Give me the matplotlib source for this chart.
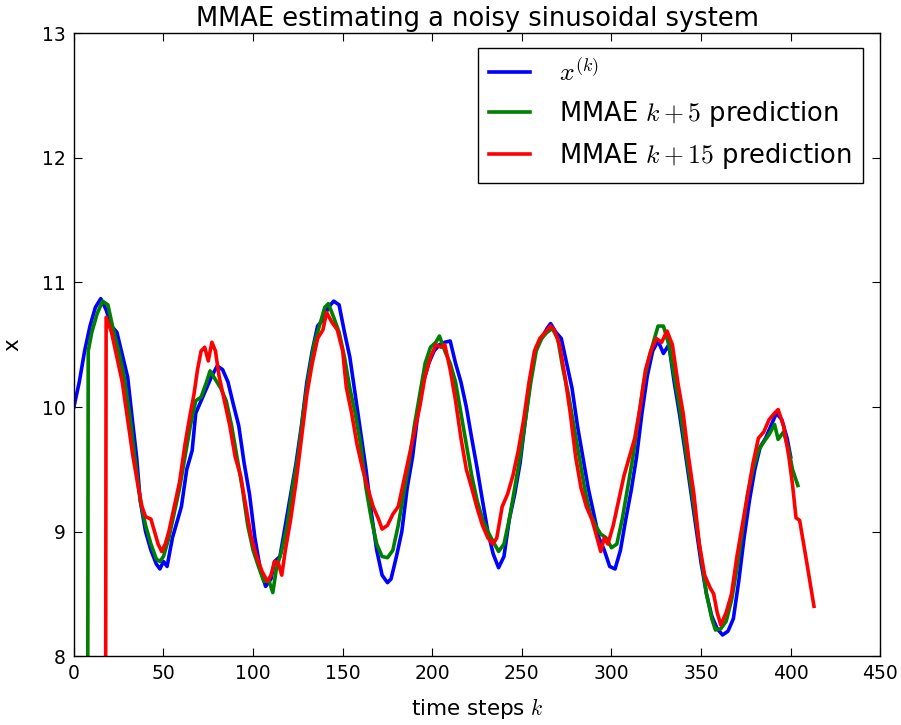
#!/usr/bin/env python3
"""
MMAE estimate of a noisy sinusoidal system: true state and k+5 / k+15 predictions.
"""

import matplotlib
matplotlib.use("Agg")
import matplotlib.pyplot as plt

# true state x^(k)
TRUE_K = [0, 3, 6, 9, 12, 15, 18, 21, 24, 27, 30, 33, 35, 37, 40, 43, 46, 48, 50, 52,
          55, 58, 60, 63, 66, 68, 71, 74, 77, 80, 83, 86, 89, 92, 95, 98, 101, 104, 107, 110,
          112, 115, 118, 121, 124, 127, 130, 133, 136, 139, 142, 145, 148, 151, 154, 157, 160, 163, 166, 169,
          172, 175, 177, 180, 183, 186, 189, 192, 195, 198, 201, 204, 207, 210, 213, 216, 219, 222, 225, 228,
          231, 234, 237, 240, 243, 246, 249, 252, 255, 258, 261, 264, 266, 269, 272, 275, 278, 281, 284, 287,
          290, 293, 296, 299, 302, 305, 308, 311, 314, 317, 320, 323, 326, 329, 332, 335, 338, 341, 344, 347,
          350, 353, 356, 359, 362, 365, 368, 371, 374, 377, 380, 383, 386, 389, 392, 395, 398, 400]
TRUE_X = [10.0, 10.2, 10.45, 10.65, 10.8, 10.87, 10.78, 10.65, 10.6, 10.42, 10.24, 9.85, 9.6, 9.25, 9.0, 8.85, 8.74, 8.70, 8.76, 8.72,
          8.95, 9.1, 9.2, 9.5, 9.65, 9.95, 10.05, 10.15, 10.25, 10.33, 10.3, 10.2, 10.02, 9.85, 9.55, 9.3, 8.95, 8.7, 8.56, 8.62,
          8.76, 8.8, 9.05, 9.3, 9.55, 9.85, 10.2, 10.45, 10.65, 10.7, 10.8, 10.85, 10.82, 10.6, 10.4, 10.1, 9.8, 9.5, 9.15, 8.85,
          8.65, 8.59, 8.62, 8.8, 9.0, 9.35, 9.6, 9.95, 10.2, 10.35, 10.45, 10.5, 10.52, 10.53, 10.35, 10.2, 10.0, 9.75, 9.51, 9.25,
          9.0, 8.82, 8.71, 8.8, 9.1, 9.3, 9.55, 9.9, 10.25, 10.48, 10.55, 10.63, 10.67, 10.6, 10.55, 10.35, 10.15, 9.85, 9.6, 9.35,
          9.15, 8.95, 8.85, 8.72, 8.70, 8.85, 9.1, 9.33, 9.6, 9.95, 10.25, 10.45, 10.53, 10.43, 10.5, 10.2, 9.94, 9.65, 9.35, 9.05,
          8.75, 8.5, 8.32, 8.22, 8.17, 8.2, 8.3, 8.6, 8.95, 9.25, 9.5, 9.68, 9.75, 9.85, 9.95, 9.9, 9.75, 9.6]

# MMAE k+5 prediction
P5_K = [7, 8, 10, 13, 16, 19, 22, 25, 28, 31, 34, 37, 40, 43, 46, 48, 50, 53, 56, 59,
        62, 65, 68, 71, 74, 76, 79, 82, 85, 88, 91, 94, 97, 100, 103, 106, 109, 111, 113, 116,
        119, 122, 125, 128, 131, 134, 137, 140, 142, 145, 148, 151, 154, 157, 160, 163, 166, 169, 172, 175,
        178, 181, 184, 187, 190, 193, 196, 199, 202, 204, 207, 210, 213, 216, 219, 222, 225, 228, 231, 234,
        237, 240, 243, 246, 249, 252, 255, 258, 261, 264, 267, 270, 273, 276, 279, 282, 285, 288, 291, 294,
        297, 300, 303, 306, 309, 312, 315, 318, 321, 324, 326, 329, 332, 335, 338, 341, 344, 347, 350, 353,
        356, 358, 361, 364, 367, 370, 373, 376, 379, 382, 385, 388, 391, 393, 396, 399, 401, 404]
P5_X = [0.0, 10.45, 10.6, 10.75, 10.85, 10.82, 10.62, 10.45, 10.25, 9.95, 9.6, 9.25, 9.05, 8.9, 8.78, 8.76, 8.8, 8.95, 9.15, 9.35,
        9.6, 9.85, 10.05, 10.08, 10.2, 10.29, 10.22, 10.15, 10.05, 9.85, 9.6, 9.35, 9.05, 8.85, 8.72, 8.6, 8.6, 8.51, 8.7, 8.85,
        9.05, 9.35, 9.6, 9.95, 10.25, 10.5, 10.65, 10.8, 10.83, 10.72, 10.6, 10.4, 10.15, 9.95, 9.7, 9.35, 9.1, 8.9, 8.8, 8.79,
        8.85, 9.05, 9.3, 9.55, 9.85, 10.1, 10.35, 10.48, 10.52, 10.57, 10.45, 10.35, 10.2, 9.95, 9.7, 9.45, 9.25, 9.1, 9.0, 8.92,
        8.84, 8.9, 9.1, 9.35, 9.6, 9.9, 10.2, 10.45, 10.55, 10.6, 10.63, 10.55, 10.3, 10.1, 9.85, 9.6, 9.35, 9.15, 9.05, 8.98,
        8.95, 8.87, 8.9, 9.1, 9.35, 9.6, 9.9, 10.2, 10.4, 10.55, 10.65, 10.65, 10.5, 10.25, 10.0, 9.7, 9.4, 9.1, 8.8, 8.5,
        8.3, 8.21, 8.22, 8.28, 8.45, 8.7, 9.0, 9.3, 9.5, 9.65, 9.72, 9.78, 9.86, 9.74, 9.8, 9.65, 9.5, 9.37]

# MMAE k+15 prediction
P15_K = [17, 18, 21, 24, 27, 30, 33, 36, 38, 40, 43, 45, 47, 49, 51, 53, 56, 59, 62, 65,
         67, 69, 71, 73, 75, 77, 79, 81, 84, 87, 90, 93, 96, 99, 102, 105, 108, 110, 112, 114,
         116, 118, 121, 124, 127, 130, 133, 136, 139, 141, 144, 147, 150, 152, 155, 158, 161, 164, 167, 170,
         172, 175, 178, 181, 184, 187, 190, 193, 196, 199, 202, 205, 207, 210, 213, 216, 219, 222, 225, 228,
         231, 234, 236, 239, 242, 245, 248, 251, 254, 257, 260, 263, 266, 268, 271, 274, 277, 280, 283, 286,
         289, 291, 294, 296, 298, 301, 304, 307, 310, 313, 316, 319, 322, 325, 328, 331, 334, 337, 340, 343,
         346, 349, 352, 355, 357, 359, 361, 364, 367, 370, 373, 376, 379, 382, 385, 388, 391, 393, 396, 399,
         401, 403, 405, 409, 413]
P15_X = [0.0, 10.72, 10.6, 10.4, 10.2, 9.9, 9.6, 9.35, 9.2, 9.12, 9.10, 9.0, 8.9, 8.84, 8.9, 9.0, 9.2, 9.4, 9.7, 9.95,
         10.1, 10.3, 10.45, 10.48, 10.37, 10.52, 10.45, 10.25, 10.05, 9.85, 9.6, 9.45, 9.2, 8.95, 8.8, 8.68, 8.6, 8.65, 8.76, 8.75,
         8.65, 8.85, 9.1, 9.4, 9.75, 10.1, 10.35, 10.55, 10.62, 10.76, 10.68, 10.62, 10.45, 10.16, 9.95, 9.7, 9.51, 9.35, 9.2, 9.1,
         9.02, 9.05, 9.14, 9.2, 9.4, 9.6, 9.8, 10.0, 10.25, 10.4, 10.5, 10.48, 10.5, 10.3, 10.05, 9.75, 9.5, 9.35, 9.19, 9.05,
         8.95, 8.9, 8.95, 9.2, 9.3, 9.45, 9.65, 9.9, 10.2, 10.45, 10.55, 10.6, 10.65, 10.62, 10.5, 10.25, 9.95, 9.6, 9.35, 9.2,
         9.1, 9.0, 8.84, 8.95, 8.9, 9.05, 9.25, 9.45, 9.6, 9.75, 10.0, 10.3, 10.45, 10.55, 10.52, 10.61, 10.5, 10.2, 9.95, 9.6,
         9.3, 8.9, 8.65, 8.55, 8.5, 8.35, 8.25, 8.35, 8.5, 8.8, 9.05, 9.3, 9.55, 9.75, 9.8, 9.9, 9.95, 9.98, 9.85, 9.6,
         9.38, 9.11, 9.09, 8.75, 8.4]

LABELS = [r"$x^{(k)}$", r"MMAE $k+5$ prediction", r"MMAE $k+15$ prediction"]
COLORS = ["#0000ff", "#008000", "#ff0000"]

plt.rcParams["mathtext.fontset"] = "cm"
plt.rcParams["font.family"] = "DejaVu Sans"

fig = plt.figure(figsize=(9.01, 7.25), dpi=100)
ax = fig.add_axes([0.082, 0.095, 0.895, 0.859])

for ks, xs, lab, col in zip([TRUE_K, P5_K, P15_K], [TRUE_X, P5_X, P15_X], LABELS, COLORS):
    ax.plot(ks, xs, color=col, linewidth=2.6, label=lab)

ax.set_xlim(0, 450)
ax.set_ylim(8, 13)
ax.set_xticks(range(0, 451, 50))
ax.set_yticks(range(8, 14))
ax.tick_params(direction="in", top=True, right=True, length=6, labelsize=13.5, pad=6)
for sp in ax.spines.values():
    sp.set_linewidth(1.0)

ax.set_title("MMAE estimating a noisy sinusoidal system", fontsize=18.5, pad=5)
ax.set_xlabel(r"time steps $k$", fontsize=15.5, labelpad=9)
ax.set_ylabel("x", fontsize=15.5, labelpad=14)

leg = ax.legend(loc="upper right", fontsize=18.5, fancybox=False, framealpha=1,
                edgecolor="black", handlelength=1.6, handletextpad=1.1,
                borderpad=0.45, labelspacing=0.47, borderaxespad=0,
                bbox_to_anchor=(0.978, 0.977))
leg.get_frame().set_linewidth(1.0)

fig.savefig("out.png", dpi=100, facecolor="white")
